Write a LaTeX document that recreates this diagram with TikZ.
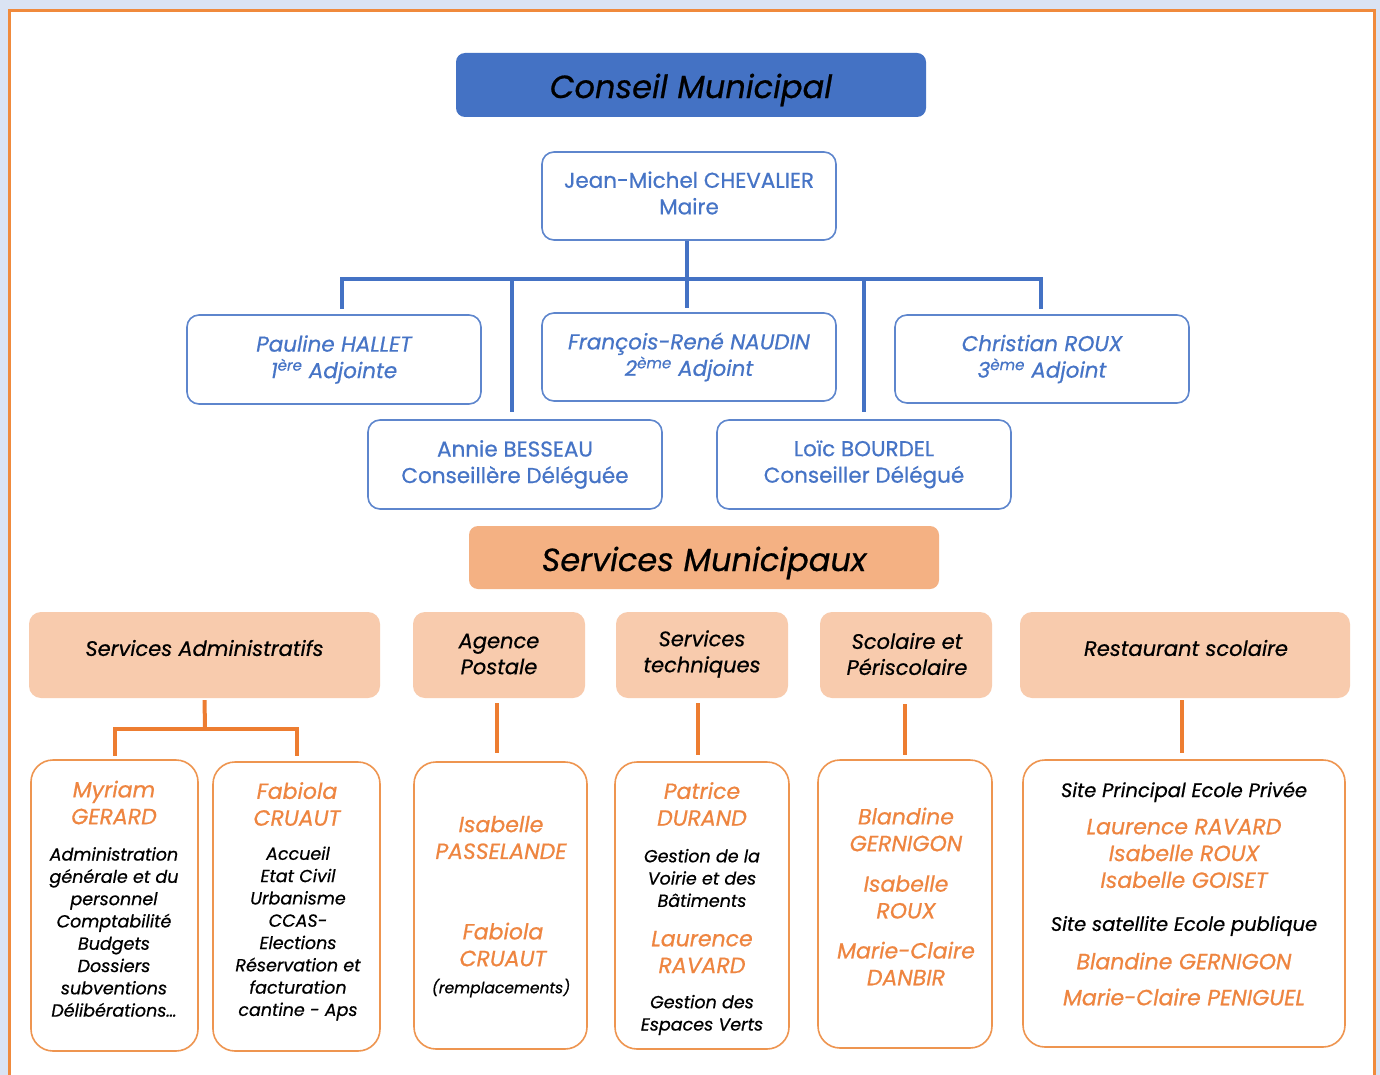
\documentclass[tikz,border=0pt]{standalone}
\usepackage{fontspec}
\setmainfont{Poppins}[UprightFeatures={FakeBold=0.6}, ItalicFeatures={FakeBold=0.6}]
\usetikzlibrary{calc}
\definecolor{bgblue}{HTML}{DAE3F3}
\definecolor{frameor}{HTML}{F08A3C}
\definecolor{cblue}{HTML}{4472C4}
\definecolor{cblueline}{HTML}{5E86CD}
\definecolor{cbluetext}{HTML}{4674C6}
\definecolor{csalmon}{HTML}{F4B183}
\definecolor{ccat}{HTML}{F8CBAD}
\definecolor{corline}{HTML}{ED7D31}
\definecolor{corbox}{HTML}{EE9550}
\definecolor{cortext}{HTML}{EE8540}
\begin{document}
\begin{tikzpicture}[x=1pt,y=-1pt,
  bluefill/.style={fill=cblue, rounded corners=9pt, inner sep=0pt},
  salmonfill/.style={fill=csalmon, rounded corners=9pt, inner sep=0pt},
  titletext/.style={inner sep=0pt, font=\fontsize{32}{38}\selectfont\itshape, text=black},
  bluebox/.style={draw=cblueline, line width=1.6pt, fill=white, rounded corners=12pt, inner sep=0pt, align=center, text=cbluetext, font=\fontsize{21.5}{26.5}\selectfont},
  bluetext/.style={inner sep=0pt, align=center, text=cbluetext, font=\fontsize{21.5}{26.5}\selectfont},
  catbox/.style={fill=ccat, rounded corners=12pt, inner sep=0pt},
  pbox/.style={draw=corbox, line width=1.6pt, fill=white, rounded corners=22pt, inner sep=0pt},
  bconn/.style={draw=cblue, line width=4pt},
  oconn/.style={draw=corline, line width=4pt},
  cattext/.style={inner sep=0pt, align=center, text=black, font=\fontsize{21}{26}\selectfont\itshape},
  ortext/.style={inner sep=0pt, align=center, text=cortext, font=\fontsize{22}{26.8}\selectfont\itshape},
  bktext/.style={inner sep=0pt, align=center, text=black, font=\fontsize{17.5}{22.3}\selectfont\itshape},
  sitetext/.style={inner sep=0pt, align=center, text=black, font=\fontsize{19.5}{22}\selectfont\itshape}
]
\clip (0,0) rectangle (1380,1075);
% background and frame
\fill[bgblue] (0,0) rectangle (1380,1075);
\draw[frameor, line width=3pt, fill=white] (9,11) rectangle (1374,1095);

% ---- top level ----
\node[bluefill, minimum width=470pt, minimum height=64pt] (cm) at (691,85) {};
\node[titletext] (cmt) at (691,90) {Conseil Municipal};
\node[bluebox, minimum width=294pt, minimum height=88pt] (maire) at (689,196) {};
\node[bluetext] (mairet) at (689,193) {Jean-Michel CHEVALIER\\Maire};
\node[bluebox, minimum width=294pt, minimum height=89pt, font=\fontsize{21.5}{26.5}\selectfont\itshape] (hallet) at (334,359.5) {Pauline HALLET\\1\textsuperscript{ère} Adjointe};
\node[bluebox, minimum width=294pt, minimum height=88pt, font=\fontsize{21.5}{26.5}\selectfont\itshape] (naudin) at (689,357) {François-René NAUDIN\\2\textsuperscript{ème} Adjoint};
\node[bluebox, minimum width=294pt, minimum height=88pt, font=\fontsize{21.5}{26.5}\selectfont\itshape] (roux) at (1042,359) {Christian ROUX\\3\textsuperscript{ème} Adjoint};
\node[bluebox, minimum width=294pt, minimum height=89pt] (besseau) at (515,464.5) {Annie BESSEAU\\Conseillère Déléguée};
\node[bluebox, minimum width=294pt, minimum height=89pt] (bourdel) at (864,464.5) {Loïc BOURDEL\\Conseiller Délégué};

\coordinate (jb) at (687,279);
\draw[bconn] (maire.south -| jb) -- (jb);
\draw[bconn, shorten >=5pt] (jb) -| ([xshift=8pt]hallet.north);
\draw[bconn, shorten >=5pt] (jb) -| ([xshift=-1pt]roux.north);
\draw[bconn, shorten >=4pt] (jb) -- (jb |- naudin.north);
\draw[bconn, shorten >=7pt] (jb -| 512,0) -- ([xshift=-3pt]besseau.north);
\draw[bconn, shorten >=7pt] (jb -| bourdel.north) -- (bourdel.north);

% ---- services ----
\node[salmonfill, minimum width=470pt, minimum height=63pt] (sm) at (704,557.5) {};
\node[titletext] (smt) at (704,563) {Services Municipaux};

\node[catbox, minimum width=351pt, minimum height=86pt] (adm) at (204.5,655) {};
\node[catbox, minimum width=172pt, minimum height=86pt] (agp) at (499,655) {};
\node[catbox, minimum width=172pt, minimum height=86pt] (tec) at (702,655) {};
\node[catbox, minimum width=172pt, minimum height=86pt] (sco) at (906,655) {};
\node[catbox, minimum width=330pt, minimum height=86pt] (res) at (1185,655) {};

\node[cattext] (admt) at (204.5,648) {Services Administratifs};
\node[cattext] (agpt) at (499,654) {Agence\\Postale};
\node[cattext] (tect) at (702,654) {Services\\techniques};
\node[cattext] (scot) at (907,654) {Scolaire et\\Périscolaire};
\node[cattext] (rest) at (1186,648) {Restaurant scolaire};

% person boxes
\node[pbox, minimum width=167pt, minimum height=291pt] (ger) at (114.5,905.5) {};
\node[pbox, minimum width=167pt, minimum height=289pt] (cru) at (296.5,906.5) {};
\node[pbox, minimum width=173pt, minimum height=287pt] (pas) at (500.5,905.5) {};
\node[pbox, minimum width=174pt, minimum height=287pt] (dur) at (702,905.5) {};
\node[pbox, minimum width=174pt, minimum height=288pt] (ger2) at (905,904) {};
\node[pbox, minimum width=322pt, minimum height=287pt] (rav) at (1184,903.5) {};

% orange connectors
\coordinate (ja) at (205,729);
\draw[oconn, shorten <=2pt] (adm.south) -- (ja);
\draw[oconn, shorten >=3pt] (ja) -| (ger.north);
\draw[oconn, shorten >=5pt] (ja) -| (cru.north);
\draw[oconn, shorten <=5pt, shorten >=8pt] (agp.south -| 497,0) -- (pas.north -| 497,0);
\draw[oconn, shorten <=5pt, shorten >=6pt] (tec.south -| 698,0) -- (dur.north -| 698,0);
\draw[oconn, shorten <=6pt, shorten >=4pt] (sco.south -| 905,0) -- (ger2.north -| 905,0);
\draw[oconn, shorten <=2pt, shorten >=6pt] (res.south -| 1182,0) -- (rav.north -| 1182,0);

% texts in person boxes
\node[ortext] (t1) at (114,802.5) {Myriam\\GERARD};
\node[bktext] (t2) at (114,932) {Administration\\générale et du\\personnel\\Comptabilité\\Budgets\\Dossiers\\subventions\\Délibérations…};
\node[ortext] (t3) at (297,804) {Fabiola\\CRUAUT};
\node[bktext] (t4) at (298,933.5) {Accueil\\Etat Civil\\Urbanisme\\CCAS-\\Elections\\Réservation et\\facturation\\cantine - Aps};
\node[ortext] (t5) at (501,837.5) {Isabelle\\PASSELANDE};
\node[ortext] (t6) at (503,944.5) {Fabiola\\CRUAUT};
\node[bktext, font=\fontsize{15.5}{18}\selectfont\itshape] (t7) at (501,988) {(remplacements)};
\node[ortext] (t8) at (702,804) {Patrice\\DURAND};
\node[bktext] (t9) at (702,878) {Gestion de la\\Voirie et des\\Bâtiments};
\node[ortext] (t10) at (702,952) {Laurence\\RAVARD};
\node[bktext] (t11) at (702,1015) {Gestion des\\Espaces Verts};
\node[ortext] (t12) at (906,829.5) {Blandine\\GERNIGON};
\node[ortext] (t13) at (906,897) {Isabelle\\ROUX};
\node[ortext] (t14) at (906,963.5) {Marie-Claire\\DANBIR};
\node[sitetext] (t15) at (1184,792) {Site Principal Ecole Privée};
\node[ortext] (t16) at (1184,853.5) {Laurence RAVARD\\Isabelle ROUX\\Isabelle GOISET};
\node[sitetext] (t17) at (1184,926) {Site satellite Ecole publique};
\node[ortext] (t18) at (1184,961) {Blandine GERNIGON};
\node[ortext] (t19) at (1184,997) {Marie-Claire PENIGUEL};
\end{tikzpicture}
\end{document}
